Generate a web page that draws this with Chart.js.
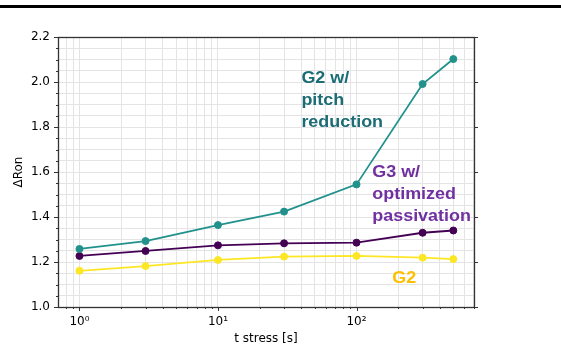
<!DOCTYPE html>
<html>
<head>
<meta charset="utf-8">
<script src="https://cdn.jsdelivr.net/npm/chart.js@4.4.0/dist/chart.umd.min.js"></script>
<style>
  html, body { margin: 0; padding: 0; background: #fff; }
  #wrap { width: 561px; height: 347px; position: relative; }
</style>
</head>
<body>
<div id="wrap"><canvas id="my-chart" width="561" height="347"></canvas></div>
<script>
// stress time in seconds
var stressTimes = [1, 3, 10, 30, 100, 300, 500];
// ΔRon per group
var pitchReduction = [1.258, 1.293, 1.364, 1.424, 1.545, 1.991, 2.102];
var optimizedPassivation = [1.227, 1.249, 1.274, 1.283, 1.286, 1.330, 1.340];
var g2Plain = [1.161, 1.182, 1.209, 1.224, 1.227, 1.219, 1.213];

var yTicks = [1.0, 1.2, 1.4, 1.6, 1.8, 2.0, 2.2];
var xDecadeLabels = { 1: '10⁰', 10: '10¹', 100: '10²' };

// text notes, anchored in data coords (x = seconds, y = ΔRon of first baseline)
var notes = [
  { lines: ['G2 w/', 'pitch', 'reduction'], x: 40, y: 1.996, color: '#1b6c75' },
  { lines: ['G3 w/', 'optimized', 'passivation'], x: 130, y: 1.578, color: '#7030a0' },
  { lines: ['G2'], x: 181, y: 1.107, color: '#ffc000' }
];

function pts(vals) {
  return stressTimes.map(function (t, i) { return { x: t, y: vals[i] }; });
}

function series(label, vals, color) {
  return {
    label: label,
    data: pts(vals),
    borderColor: color,
    backgroundColor: color,
    borderWidth: 1.8,
    pointRadius: 3.5,
    pointBorderWidth: 1,
    pointBorderColor: color,
    pointBackgroundColor: color,
    tension: 0
  };
}

var decorations = {
  id: 'decorations',
  beforeDraw: function (chart) {
    var c = chart.ctx;
    c.save();
    c.fillStyle = '#fff';
    c.fillRect(0, 0, chart.width, chart.height);
    c.fillStyle = '#000';
    c.fillRect(0, 5, chart.width, 3);
    c.restore();
  },
  afterDraw: function (chart) {
    var c = chart.ctx, a = chart.chartArea;
    var xs = chart.scales.x, ys = chart.scales.y;
    c.save();
    c.strokeStyle = '#333';
    c.lineWidth = 1;
    // tick marks
    c.beginPath();
    ys.ticks.forEach(function (t) {
      var py = Math.round(ys.getPixelForValue(t.value)) + 0.5;
      var major = Math.abs(t.value * 5 - Math.round(t.value * 5)) < 1e-6;
      var len = major ? 4 : 2;
      c.moveTo(a.left - len, py); c.lineTo(a.left, py);
      if (major) { c.moveTo(a.right, py); c.lineTo(a.right + 4, py); }
    });
    xs.ticks.forEach(function (t) {
      var px = Math.round(xs.getPixelForValue(t.value)) + 0.5;
      var major = xDecadeLabels[t.value] !== undefined;
      var len = major ? 4 : 2;
      c.moveTo(px, a.bottom); c.lineTo(px, a.bottom + len);
    });
    c.stroke();
    // frame
    c.lineWidth = 1.3;
    c.strokeRect(Math.round(a.left) + 0.5, Math.round(a.top) + 0.5,
      Math.round(a.right - a.left), Math.round(a.bottom - a.top));
    // notes
    c.font = 'bold 16px "Liberation Sans", Arial, sans-serif';
    c.textBaseline = 'alphabetic';
    c.textAlign = 'left';
    notes.forEach(function (n) {
      var px = xs.getPixelForValue(n.x), py = ys.getPixelForValue(n.y);
      c.fillStyle = n.color;
      n.lines.forEach(function (s, i) {
        c.save();
        c.translate(px, py + i * 22);
        c.scale(1.12, 1);
        c.fillText(s, 0, 0);
        c.restore();
      });
    });
    c.restore();
  }
};

var ctx = document.getElementById('my-chart').getContext('2d');
var chart = new Chart(ctx, {
  type: 'line',
  data: {
    datasets: [
      series('G2 w/ pitch reduction', pitchReduction, '#21918c'),
      series('G3 w/ optimized passivation', optimizedPassivation, '#440154'),
      series('G2', g2Plain, '#fde725')
    ]
  },
  plugins: [decorations],
  options: {
    responsive: false,
    animation: false,
    devicePixelRatio: 1,
    layout: { padding: { left: 0, right: 87, top: 37, bottom: 0 } },
    plugins: { legend: { display: false }, tooltip: { enabled: false } },
    scales: {
      x: {
        type: 'logarithmic',
        min: 0.73,
        max: 705,
        afterFit: function (s) { s.height = 40; },
        afterBuildTicks: function (s) {
          var t = [];
          [0.1, 1, 10, 100].forEach(function (d) {
            for (var k = 1; k <= 9; k++) {
              var v = +(k * d).toPrecision(3);
              if (v >= 0.8 && v <= 700) t.push({ value: v });
            }
          });
          s.ticks = t;
        },
        grid: { color: '#e4e4e4', lineWidth: 1, drawTicks: false },
        border: { display: false },
        ticks: {
          autoSkip: false,
          maxRotation: 0,
          padding: 8,
          color: '#000',
          font: { family: '"DejaVu Sans", sans-serif', size: 12 },
          callback: function (v) { return xDecadeLabels[v] || ''; }
        },
        title: {
          display: true,
          text: 't stress [s]',
          color: '#000',
          font: { family: '"DejaVu Sans", sans-serif', size: 12 },
          padding: { top: 0, bottom: 1 }
        }
      },
      y: {
        min: 1.0,
        max: 2.2,
        afterFit: function (s) { s.width = 58; },
        afterBuildTicks: function (s) {
          var t = [];
          for (var i = 0; i <= 24; i++) t.push({ value: +(1 + i * 0.05).toFixed(2) });
          s.ticks = t;
        },
        grid: { color: '#e4e4e4', lineWidth: 1, drawTicks: false },
        border: { display: false },
        ticks: {
          autoSkip: false,
          padding: 8,
          color: '#000',
          font: { family: '"DejaVu Sans", sans-serif', size: 12 },
          callback: function (v) {
            var hit = yTicks.filter(function (y) { return Math.abs(y - v) < 1e-6; });
            return hit.length ? hit[0].toFixed(1) : '';
          }
        },
        title: {
          display: true,
          text: 'ΔRon',
          color: '#000',
          font: { family: '"DejaVu Sans", sans-serif', size: 12 },
          padding: { top: 12, bottom: 0 }
        }
      }
    }
  }
});
</script>
</body>
</html>
